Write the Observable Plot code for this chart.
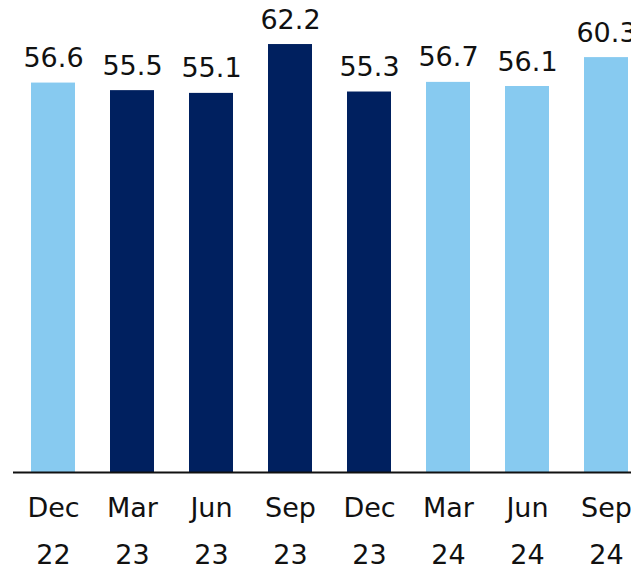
<!DOCTYPE html>
<html>
<head>
<meta charset="utf-8">
<script src="https://cdn.jsdelivr.net/npm/d3@7"></script>
<script src="https://cdn.jsdelivr.net/npm/@observablehq/plot@0.6"></script>
<style>
  html, body { margin: 0; padding: 0; background: #fff; overflow: hidden; }
  svg { display: block; }
</style>
</head>
<body>
<div id="chart"></div>
<script>
const months = ["Dec", "Mar", "Jun", "Sep", "Dec", "Mar", "Jun", "Sep"];
const years = ["22", "23", "23", "23", "23", "24", "24", "24"];
const values = [56.6, 55.5, 55.1, 62.2, 55.3, 56.7, 56.1, 60.3];
const highlight = [false, true, true, true, true, false, false, false];

const data = months.map((m, i) => ({
  key: `${m}\n${years[i]}`,
  value: values[i],
  hl: highlight[i]
}));

const fontFamily = "'DejaVu Sans', Verdana, sans-serif";

const chart = Plot.plot({
  width: 631,
  height: 570,
  marginTop: 0,
  marginLeft: 13,
  marginRight: 0,
  marginBottom: 98,
  style: { fontFamily, fontSize: "27px", color: "#111", background: "#fff" },
  x: {
    domain: data.map(d => d.key),
    range: [13.5, 645.5],
    paddingInner: 0.443,
    paddingOuter: 0.2215,
    align: 0.5,
    axis: null,
    label: null
  },
  y: { domain: [0, 68.6], axis: null },
  color: { domain: [false, true], range: ["#87CAF0", "#00205F"] },
  marks: [
    Plot.barY(data, { x: "key", y: "value", fill: d => d.hl }),
    Plot.ruleY([0], { stroke: "#111", strokeWidth: 2 }),
    Plot.text(data, {
      x: "key", y: "value", text: d => d.value.toFixed(1),
      lineAnchor: "bottom", dy: -16, fontSize: 27, fill: "#111"
    }),
    Plot.axisX({
      tickSize: 0, tickPadding: 11, fontSize: 27, lineHeight: 1.74,
      tickFormat: d => d, fill: "#111", label: null
    })
  ]
});
document.getElementById("chart").appendChild(chart);
</script>
</body>
</html>
